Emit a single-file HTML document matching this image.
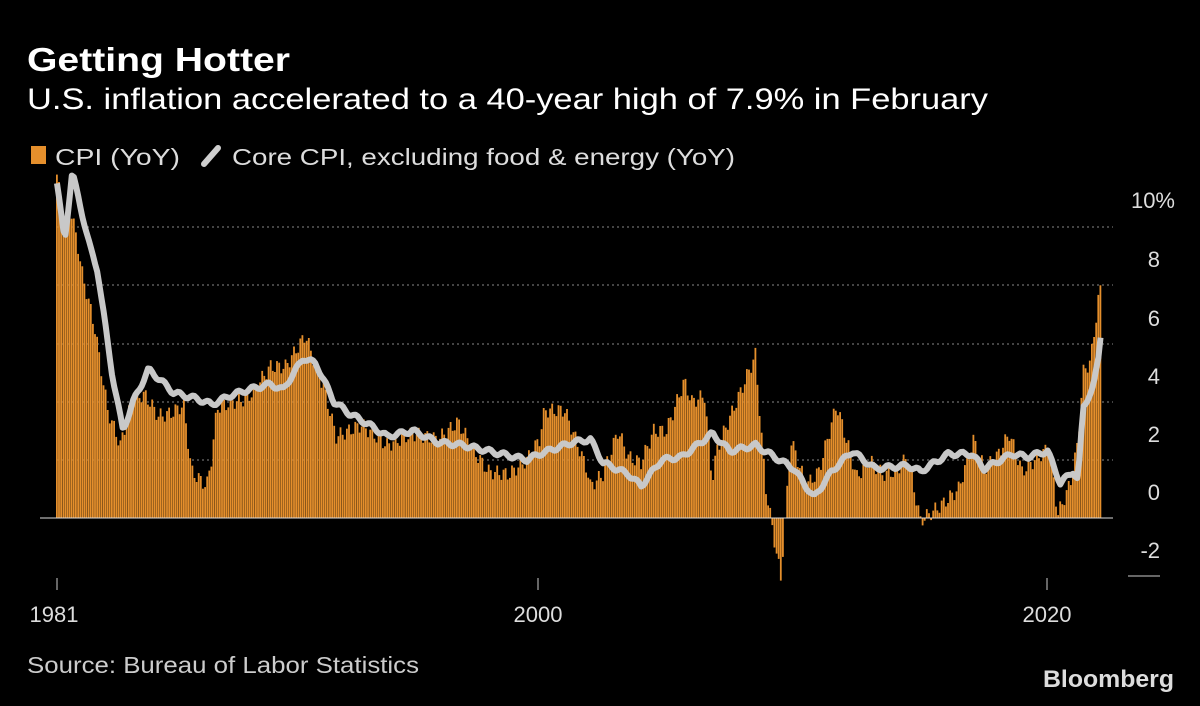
<!DOCTYPE html>
<html><head><meta charset="utf-8"><style>
body{margin:0;background:#000;width:1200px;height:701px;overflow:hidden;font-family:"Liberation Sans",sans-serif;}
</style></head><body>
<svg id="s" width="1200" height="701" xmlns="http://www.w3.org/2000/svg" font-family="Liberation Sans, sans-serif">
<rect width="1200" height="701" fill="#000"/>
<text x="27" y="71" fill="#fff" font-size="33" font-weight="bold" textLength="263" lengthAdjust="spacingAndGlyphs">Getting Hotter</text>
<text x="27" y="109" fill="#fff" font-size="30" textLength="961" lengthAdjust="spacingAndGlyphs">U.S. inflation accelerated to a 40-year high of 7.9% in February</text>
<rect x="31" y="146" width="15" height="18" fill="#e58f2c"/>
<text x="55" y="165" fill="#ddd" font-size="23" textLength="125" lengthAdjust="spacingAndGlyphs">CPI (YoY)</text>
<line x1="204" y1="164" x2="218" y2="148" stroke="#cfcfcf" stroke-width="6" stroke-linecap="round"/>
<text x="232" y="165" fill="#ddd" font-size="23" textLength="503" lengthAdjust="spacingAndGlyphs">Core CPI, excluding food &amp; energy (YoY)</text>
<g stroke="#888" stroke-dasharray="2,3" stroke-width="1">
<line x1="57" y1="227" x2="1113" y2="227"/><line x1="57" y1="285" x2="1113" y2="285"/>
<line x1="57" y1="344" x2="1113" y2="344"/><line x1="57" y1="402" x2="1113" y2="402"/>
<line x1="57" y1="460" x2="1113" y2="460"/>
</g>
<g fill="#ddd" font-size="22" text-anchor="end">
<text x="1175" y="208">10%</text><text x="1160" y="267">8</text><text x="1160" y="326">6</text>
<text x="1160" y="384">4</text><text x="1160" y="442">2</text><text x="1160" y="500">0</text><text x="1160" y="558">-2</text>
</g>
<line x1="1128" y1="576" x2="1160" y2="576" stroke="#ccc" stroke-width="1"/>
<g id="bars" fill="#e58f2c"></g>
<line x1="40" y1="518" x2="1113" y2="518" stroke="#ddd" stroke-width="1"/>
<path id="core" fill="none" stroke="#c8c8c8" stroke-width="6" stroke-linejoin="round"/>
<g stroke="#ccc"><line x1="57" y1="578" x2="57" y2="590"/><line x1="538" y1="578" x2="538" y2="590"/><line x1="1047" y1="578" x2="1047" y2="590"/></g>
<g fill="#ddd" font-size="22" text-anchor="middle"><text x="54" y="622">1981</text><text x="538" y="622">2000</text><text x="1047" y="622">2020</text></g>
<text x="27" y="673" fill="#ccc" font-size="23" textLength="392" lengthAdjust="spacingAndGlyphs">Source: Bureau of Labor Statistics</text>
<text x="1043" y="687" fill="#ddd" font-size="24" font-weight="bold" textLength="131" lengthAdjust="spacingAndGlyphs">Bloomberg</text>
</svg>
<script>
var cpi=[[1981,11.8],[1981.3,10],[1981.5,10.8],[1981.8,9.5],[1982,8.4],[1982.5,6.5],[1983,3.7],[1983.5,2.5],[1984,4.2],[1984.5,4.2],[1985,3.5],[1985.5,3.6],[1986,3.9],[1986.3,1.6],[1986.9,1.1],[1987.1,2.1],[1987.3,3.8],[1988,4.0],[1988.5,4.1],[1989,4.7],[1989.4,5.2],[1990,5.2],[1990.8,6.3],[1991,5.7],[1991.5,4.5],[1992,2.8],[1993,3.2],[1994,2.5],[1995,2.9],[1996,2.7],[1996.8,3.3],[1997.5,2.2],[1998,1.6],[1998.8,1.5],[1999.5,2.0],[2000,2.7],[2000.2,3.7],[2001,3.7],[2001.9,1.6],[2002,1.1],[2002.5,1.5],[2003.1,3.0],[2003.5,2.1],[2004,1.9],[2004.5,3.0],[2005,3.0],[2005.7,4.7],[2006,4.0],[2006.5,4.2],[2006.8,1.3],[2007,2.4],[2007.9,4.3],[2008.5,5.6],[2008.9,1.1],[2009.5,-2.1],[2009.9,2.7],[2010.5,1.1],[2011,1.6],[2011.7,3.9],[2012.5,1.4],[2013,2.0],[2013.5,1.5],[2014,1.6],[2014.5,2.1],[2015,-0.1],[2015.9,0.5],[2016.5,1.0],[2017.1,2.7],[2017.5,1.7],[2018,2.1],[2018.5,2.9],[2019,1.6],[2019.9,2.3],[2020.1,2.5],[2020.4,0.1],[2020.9,1.2],[2021.2,2.6],[2021.4,5.0],[2021.7,5.4],[2021.9,6.8],[2022,7.5],[2022.1,7.9]];
var core=[[1981,11.5],[1981.3,9.5],[1981.6,11.9],[1982.3,9.3],[1982.6,8.5],[1983,6],[1983.2,4.8],[1983.6,3],[1984,4],[1984.6,5.1],[1985,4.8],[1985.6,4.3],[1986.5,4.1],[1987.1,3.9],[1987.8,4.2],[1988.5,4.4],[1989.4,4.6],[1989.9,4.4],[1990.7,5.5],[1991.2,5.3],[1991.9,4.0],[1992.5,3.6],[1993.3,3.2],[1994,2.8],[1995,3.0],[1996,2.6],[1997,2.5],[1998,2.3],[1999.5,2.0],[2000,2.2],[2001.3,2.6],[2002,2.7],[2002.5,1.9],[2003.5,1.5],[2004,1.1],[2004.8,2.0],[2005.6,2.1],[2006.8,2.9],[2007.5,2.3],[2008.5,2.5],[2010,1.7],[2010.8,0.7],[2011.5,1.6],[2012.3,2.3],[2013.2,1.7],[2014.5,1.8],[2015,1.6],[2016.1,2.2],[2017,2.2],[2017.5,1.7],[2018.6,2.2],[2019.2,2.1],[2020,2.3],[2020.5,1.2],[2021,1.6],[2021.2,1.3],[2021.4,3.8],[2021.8,4.5],[2022,5.5],[2022.1,6.4]];
function interp(a,t){for(var i=0;i<a.length-1;i++){if(t<=a[i+1][0]){var f=(t-a[i][0])/(a[i+1][0]-a[i][0]);return a[i][1]+f*(a[i+1][1]-a[i][1]);}}return a[a.length-1][1];}
function X(t){return 57+(t-1981)*25.4;}function Y(v){return 518-v*29.1;}
var g=document.getElementById('bars'),h='',p='';
for(var m=0;m<=493;m++){var t=1981+m/12;if(t>2022.1)break;var v=interp(cpi,t)+Math.sin(m*1.7)*0.25;var y=Y(v),x=X(t);
h+='<rect x="'+(x-1).toFixed(1)+'" y="'+Math.min(y,518).toFixed(1)+'" width="1.8" height="'+Math.abs(518-y).toFixed(1)+'"/>';
var c=interp(core,t)+Math.sin(m*0.9)*0.08;p+=(m?'L':'M')+x.toFixed(1)+','+Y(c).toFixed(1);}
g.innerHTML=h;document.getElementById('core').setAttribute('d',p);
</script>
</body></html>
